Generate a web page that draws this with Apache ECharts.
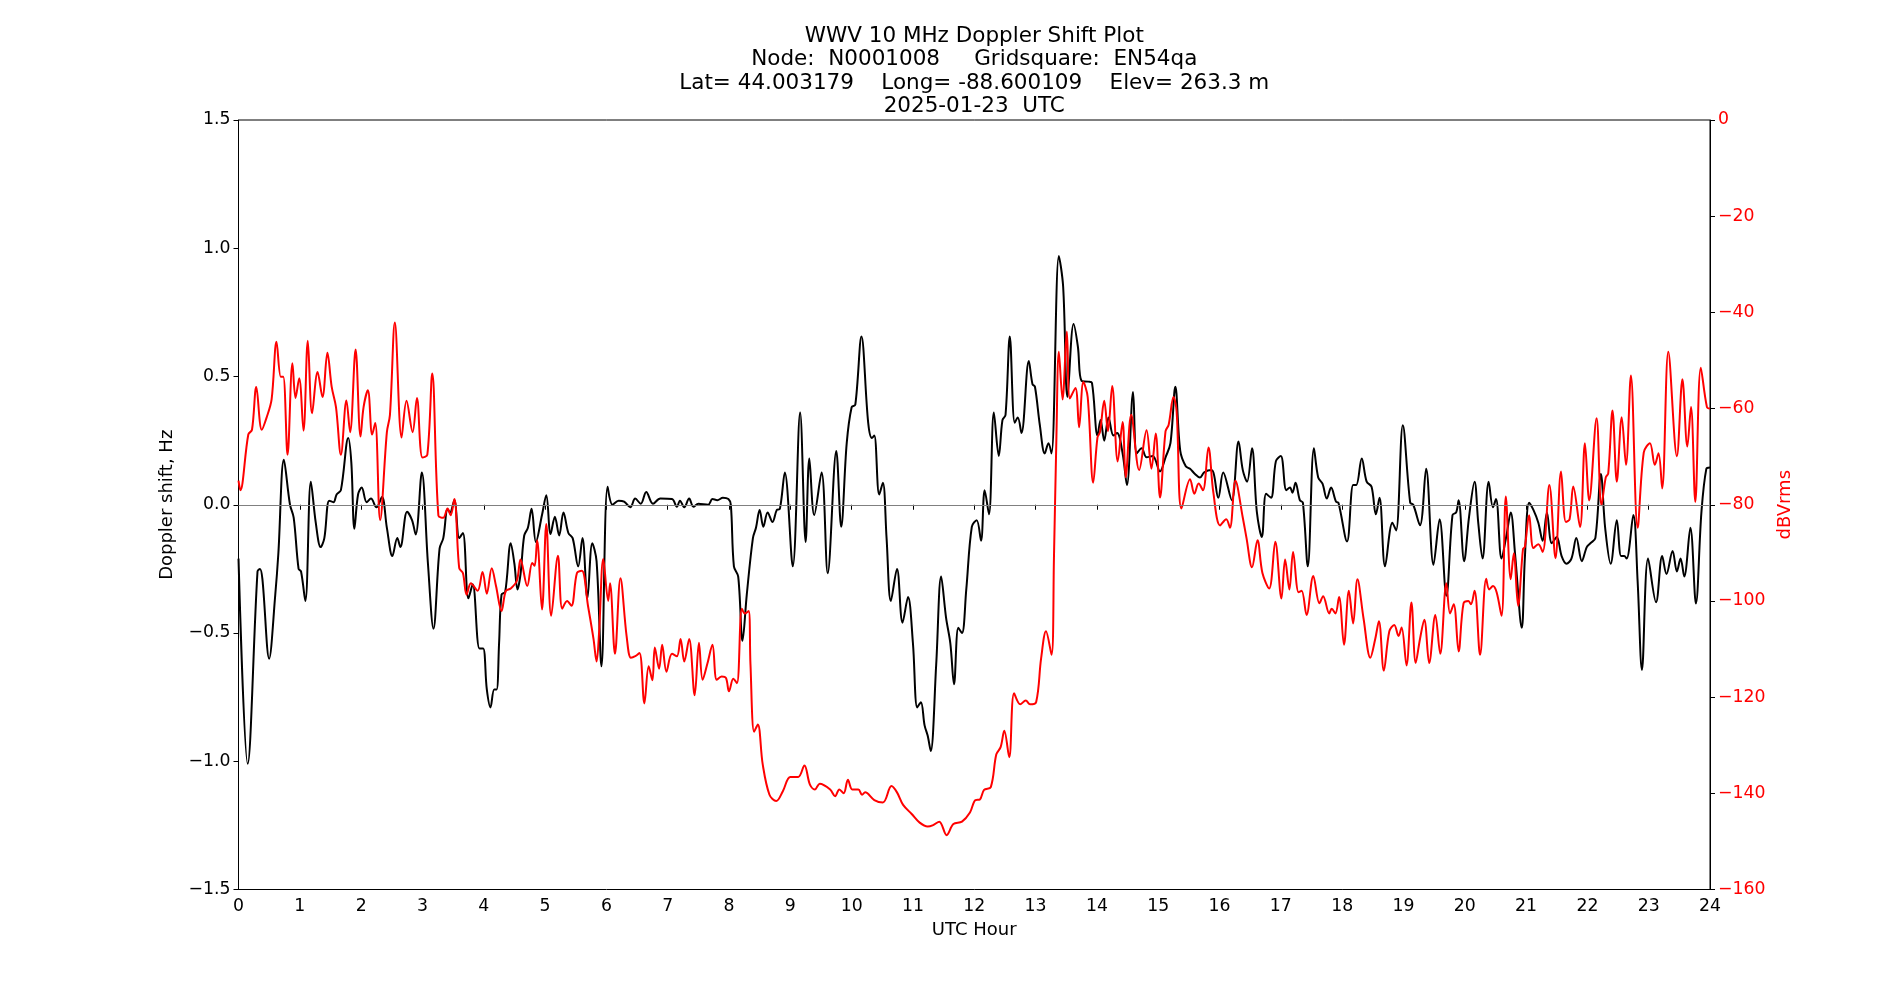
<!DOCTYPE html>
<html>
<head>
<meta charset="utf-8">
<script src="https://cdn.jsdelivr.net/npm/echarts@6/dist/echarts.min.js"></script>
<style>
html,body{margin:0;padding:0;background:#fff;}
#chart{width:1900px;height:1000px;}
</style>
</head>
<body>
<div id="chart"></div>
<script>
const titleLines = [
  'WWV 10 MHz Doppler Shift Plot',
  'Node:  N0001008     Gridsquare:  EN54qa',
  'Lat= 44.003179    Long= -88.600109    Elev= 263.3 m',
  '2025-01-23  UTC'
];
const xTicks = [0,1,2,3,4,5,6,7,8,9,10,11,12,13,14,15,16,17,18,19,20,21,22,23,24];

const dopHours = [0.00,0.15,0.31,0.35,0.39,0.50,0.60,0.65,0.74,0.84,0.90,0.98,1.02,1.09,1.18,1.26,1.34,1.40,1.48,1.55,1.60,1.67,1.79,1.84,1.89,1.95,2.01,2.09,2.16,2.25,2.34,2.42,2.51,2.59,2.64,2.75,2.83,2.89,2.99,3.09,3.18,3.28,3.34,3.41,3.45,3.52,3.60,3.66,3.75,3.82,3.93,3.99,4.05,4.11,4.17,4.21,4.25,4.29,4.35,4.44,4.50,4.55,4.60,4.66,4.72,4.78,4.85,4.95,5.02,5.09,5.16,5.23,5.30,5.38,5.45,5.54,5.61,5.69,5.77,5.84,5.92,6.02,6.10,6.20,6.29,6.39,6.47,6.56,6.65,6.76,6.88,7.07,7.15,7.20,7.27,7.35,7.42,7.50,7.66,7.73,7.81,7.90,7.99,8.03,8.08,8.15,8.22,8.29,8.39,8.44,8.50,8.56,8.63,8.71,8.78,8.83,8.91,9.04,9.16,9.25,9.31,9.39,9.51,9.61,9.75,9.83,9.92,10.00,10.06,10.16,10.27,10.33,10.37,10.45,10.51,10.57,10.64,10.74,10.83,10.92,11.00,11.07,11.13,11.19,11.24,11.29,11.38,11.46,11.54,11.61,11.67,11.74,11.80,11.87,11.96,12.04,12.11,12.17,12.24,12.32,12.40,12.46,12.51,12.58,12.66,12.71,12.77,12.89,12.95,12.99,13.07,13.15,13.21,13.26,13.38,13.45,13.52,13.62,13.69,13.75,13.86,13.92,14.01,14.06,14.12,14.19,14.27,14.33,14.42,14.49,14.59,14.65,14.73,14.81,14.91,15.03,15.12,15.20,15.28,15.36,15.45,15.52,15.60,15.68,15.75,15.87,15.98,16.06,16.20,16.31,16.38,16.45,16.53,16.61,16.69,16.76,16.84,16.92,17.00,17.09,17.15,17.19,17.24,17.31,17.36,17.44,17.54,17.61,17.68,17.75,17.82,17.90,17.94,18.08,18.18,18.23,18.32,18.40,18.48,18.55,18.61,18.70,18.82,18.88,18.99,19.11,19.16,19.27,19.37,19.49,19.59,19.70,19.80,19.86,19.90,19.99,20.07,20.16,20.22,20.29,20.39,20.46,20.51,20.60,20.68,20.75,20.82,20.93,20.98,21.05,21.12,21.20,21.27,21.34,21.42,21.50,21.58,21.66,21.74,21.82,21.91,21.99,22.05,22.13,22.22,22.29,22.38,22.48,22.55,22.60,22.64,22.75,22.82,22.89,22.99,23.12,23.22,23.29,23.39,23.46,23.52,23.58,23.68,23.77,23.86,23.94,24.00];
const dopShift = [-0.21,-1.01,-0.26,-0.25,-0.29,-0.60,-0.35,-0.19,0.175,0.0,-0.05,-0.25,-0.26,-0.375,0.09,-0.07,-0.165,-0.13,0.016,0.01,0.04,0.057,0.26,0.165,-0.094,0.04,0.067,0.01,0.024,-0.01,0.03,-0.09,-0.2,-0.13,-0.165,-0.027,-0.06,-0.116,0.126,-0.23,-0.483,-0.17,-0.13,-0.018,-0.03,0.018,-0.13,-0.11,-0.365,-0.31,-0.56,-0.56,-0.72,-0.79,-0.72,-0.72,-0.54,-0.35,-0.34,-0.15,-0.23,-0.33,-0.27,-0.12,-0.09,-0.016,-0.145,-0.04,0.037,-0.114,-0.047,-0.12,-0.03,-0.11,-0.13,-0.24,-0.13,-0.365,-0.15,-0.22,-0.63,0.07,0.0,0.016,0.012,-0.01,0.024,0.004,0.05,0.004,0.024,0.022,-0.008,0.016,-0.01,0.024,-0.008,0.004,0.0,0.022,0.018,0.027,0.022,0.0,-0.24,-0.28,-0.53,-0.35,-0.13,-0.09,-0.02,-0.086,-0.03,-0.067,-0.02,-0.016,0.126,-0.24,0.36,-0.145,0.18,-0.04,0.126,-0.267,0.21,-0.086,0.24,0.38,0.39,0.656,0.32,0.26,0.27,0.04,0.086,-0.13,-0.375,-0.25,-0.46,-0.36,-0.54,-0.79,-0.77,-0.86,-0.90,-0.96,-0.62,-0.28,-0.44,-0.54,-0.70,-0.48,-0.50,-0.33,-0.086,-0.06,-0.14,0.057,-0.037,0.36,0.19,0.33,0.35,0.656,0.32,0.34,0.28,0.56,0.47,0.46,0.31,0.20,0.24,0.20,0.97,0.85,0.42,0.705,0.617,0.483,0.48,0.475,0.27,0.33,0.25,0.34,0.27,0.28,0.20,0.077,0.44,0.20,0.22,0.185,0.19,0.13,0.185,0.24,0.46,0.21,0.15,0.14,0.12,0.106,0.126,0.135,0.027,0.126,0.018,0.247,0.135,0.09,0.22,-0.03,-0.126,0.043,0.027,0.17,0.19,0.057,0.067,0.047,0.086,0.018,0.008,-0.24,0.22,0.106,0.082,0.024,0.067,0.012,0.008,-0.143,0.077,0.077,0.18,0.09,0.07,-0.037,0.027,-0.24,-0.07,-0.10,0.31,0.008,0.0,-0.08,0.14,-0.234,-0.057,-0.355,-0.04,-0.03,0.018,-0.22,-0.047,0.09,-0.07,-0.21,0.09,-0.01,0.022,-0.21,-0.12,-0.03,-0.19,-0.48,-0.21,0.008,-0.02,-0.07,-0.14,-0.03,-0.15,-0.126,-0.20,-0.23,-0.21,-0.13,-0.22,-0.165,-0.15,-0.13,0.12,-0.09,-0.23,-0.06,-0.20,-0.20,-0.21,-0.04,-0.30,-0.644,-0.21,-0.38,-0.20,-0.27,-0.18,-0.26,-0.21,-0.28,-0.09,-0.385,-0.03,0.14,0.145];

const dbHours = [0.00,0.03,0.16,0.22,0.29,0.38,0.46,0.54,0.62,0.69,0.73,0.80,0.88,0.93,0.99,1.06,1.13,1.20,1.29,1.37,1.45,1.52,1.59,1.67,1.76,1.82,1.91,1.99,2.04,2.11,2.18,2.23,2.31,2.42,2.47,2.55,2.66,2.74,2.84,2.91,3.00,3.08,3.16,3.26,3.34,3.41,3.46,3.52,3.60,3.66,3.72,3.79,3.90,3.98,4.05,4.13,4.20,4.29,4.36,4.44,4.54,4.60,4.71,4.79,4.83,4.87,4.95,5.02,5.10,5.21,5.28,5.36,5.43,5.52,5.60,5.70,5.79,5.84,5.88,5.95,6.03,6.06,6.14,6.23,6.33,6.40,6.47,6.54,6.62,6.69,6.75,6.79,6.86,6.91,6.98,7.07,7.15,7.21,7.27,7.35,7.44,7.51,7.57,7.65,7.73,7.80,7.88,7.95,8.00,8.07,8.13,8.21,8.26,8.32,8.35,8.41,8.47,8.55,8.66,8.77,8.88,9.00,9.13,9.23,9.32,9.40,9.48,9.65,9.73,9.80,9.87,9.94,10.01,10.11,10.17,10.22,10.37,10.51,10.65,10.74,10.84,10.98,11.11,11.24,11.33,11.43,11.55,11.66,11.80,11.93,12.02,12.09,12.16,12.27,12.36,12.43,12.49,12.57,12.65,12.75,12.84,12.91,13.01,13.09,13.17,13.26,13.30,13.34,13.38,13.44,13.51,13.56,13.65,13.71,13.78,13.85,13.94,14.01,14.05,14.12,14.18,14.25,14.34,14.42,14.47,14.56,14.69,14.81,14.89,14.96,15.03,15.12,15.17,15.25,15.30,15.38,15.52,15.59,15.66,15.73,15.82,15.90,16.01,16.11,16.17,16.26,16.38,16.44,16.53,16.62,16.70,16.81,16.91,17.01,17.07,17.14,17.20,17.29,17.34,17.42,17.53,17.63,17.69,17.79,17.83,17.89,17.95,18.03,18.11,18.18,18.25,18.35,18.46,18.54,18.60,18.68,18.77,18.85,18.92,18.97,19.05,19.13,19.20,19.27,19.34,19.42,19.52,19.60,19.70,19.76,19.82,19.90,19.98,20.06,20.10,20.16,20.25,20.35,20.40,20.46,20.52,20.60,20.67,20.75,20.80,20.87,20.95,20.98,21.05,21.12,21.20,21.27,21.38,21.48,21.57,21.65,21.71,21.77,21.88,21.96,22.03,22.15,22.23,22.30,22.34,22.41,22.48,22.56,22.63,22.71,22.82,22.92,23.02,23.10,23.16,23.22,23.32,23.46,23.55,23.63,23.69,23.76,23.85,23.95,24.00];
const dbVrms = [-75,-77,-65.4,-64.4,-55.5,-64.4,-61.8,-58.1,-46.1,-53.4,-53.4,-69.6,-50.6,-57.8,-53.7,-64.6,-45.9,-61.0,-52.4,-57.6,-48.4,-55.5,-59.7,-69.6,-58.3,-64.9,-47.7,-65.8,-59.7,-56.2,-65.4,-63.0,-83.2,-64.9,-61.3,-42.1,-66.0,-58.4,-64.9,-57.8,-70.2,-69.6,-52.7,-82.2,-82.7,-80.8,-82.2,-78.8,-93.2,-94.2,-98.7,-96.3,-97.9,-94.0,-98.5,-93.2,-96.9,-102.1,-97.9,-97.4,-95.8,-91.4,-96.9,-92.1,-92.7,-87.4,-101.8,-84.0,-103.1,-90.6,-101.6,-100.0,-101.0,-94.2,-93.7,-101.0,-107.9,-112.6,-106.8,-91.3,-100.0,-96.3,-111.0,-95.3,-107.3,-111.8,-111.5,-110.8,-121.3,-113.6,-116.5,-109.7,-114.1,-109.1,-114.7,-111.0,-111.5,-107.9,-112.6,-107.9,-119.6,-108.7,-116.4,-112.9,-109.1,-116.4,-115.7,-116.0,-118.8,-116.2,-117.1,-101.6,-102.6,-102.1,-113.1,-127.2,-125.7,-134.0,-140.3,-141.6,-139.5,-136.6,-136.6,-134.2,-138.2,-139.2,-138.0,-139.2,-140.6,-139.2,-140.0,-137.2,-139.2,-139.2,-140.3,-139.8,-141.4,-141.9,-138.5,-139.8,-142.4,-144.3,-146.1,-146.9,-146.6,-145.9,-148.7,-146.4,-145.9,-144.0,-141.4,-141.3,-139.3,-138.7,-131.9,-130.4,-127.0,-132.5,-119.2,-121.5,-120.7,-121.5,-121.0,-112.0,-106.3,-111.2,-91.1,-66.0,-48.2,-58.1,-44.0,-57.9,-55.7,-63.9,-54.5,-57.6,-75.4,-66.0,-64.9,-58.4,-64.7,-55.3,-71.0,-62.8,-74.3,-61.3,-72.8,-64.5,-72.5,-65.2,-78.5,-64.7,-63.4,-57.6,-60.5,-80.8,-74.7,-77.7,-75.6,-77.0,-68.1,-77.5,-84.3,-83.0,-84.8,-75.0,-82.7,-86.9,-93.0,-87.4,-94.2,-97.4,-87.7,-99.5,-91.4,-97.6,-89.8,-98.2,-97.9,-102.9,-94.8,-100.5,-99.0,-102.6,-101.6,-102.6,-99.2,-109.1,-97.9,-104.7,-95.5,-103.7,-111.8,-107.9,-104.2,-114.5,-106.3,-105.0,-107.3,-105.5,-113.4,-100.3,-112.9,-107.9,-103.9,-112.9,-102.9,-111.0,-96.3,-102.6,-100.7,-110.5,-100.5,-100.0,-100.7,-97.9,-111.2,-95.4,-97.6,-96.9,-98.2,-103.1,-78.3,-95.5,-90.1,-101.0,-89.2,-88.8,-82.2,-89.0,-88.2,-89.8,-75.9,-91.1,-73.1,-83.6,-83.0,-76.2,-84.6,-67.2,-79.1,-62.0,-80.1,-74.3,-73.5,-60.4,-75.2,-61.8,-71.7,-53.1,-84.8,-69.1,-67.2,-71.7,-69.3,-76.6,-48.2,-69.9,-53.9,-67.9,-59.7,-79.4,-51.5,-59.7,-60.0];

const dopData = dopHours.map((h, i) => [h, dopShift[i]]);
const dbData = dbHours.map((h, i) => [h, dbVrms[i]]);

const FONT = 'DejaVu Sans';
const minus = s => s.replace('-', '\u2212');

const chart = echarts.init(document.getElementById('chart'), null, {renderer: 'canvas'});
const gridLeft = 238.5, gridRight = 190, gridTop = 120, gridBottom = 110.5;
const centerX = gridLeft + (1900 - gridLeft - gridRight) / 2;

chart.setOption({
  animation: false,
  backgroundColor: '#ffffff',
  textStyle: {fontFamily: FONT},
  graphic: titleLines.map((t, i) => ({
    type: 'text',
    x: centerX,
    y: 36.5 + i * 23.3,
    style: {
      text: t,
      fill: '#000',
      font: '21.5px "DejaVu Sans"',
      textAlign: 'center',
      textVerticalAlign: 'middle'
    }
  })),
  grid: {
    left: gridLeft, right: gridRight, top: gridTop, bottom: gridBottom,
    show: true, borderColor: '#000', borderWidth: 1, backgroundColor: '#fff'
  },
  xAxis: {
    type: 'value', min: xTicks[0], max: xTicks[xTicks.length - 1], interval: 1,
    name: 'UTC Hour', nameLocation: 'middle', nameGap: 32,
    nameTextStyle: {color: '#000', fontSize: 18, fontFamily: FONT},
    axisLine: {show: true, lineStyle: {color: '#000', width: 1}},
    axisTick: {show: true, length: 5, lineStyle: {color: '#000'}},
    axisLabel: {color: '#000', fontSize: 17.3, fontFamily: FONT, margin: 9},
    splitLine: {show: false}
  },
  yAxis: [{
    type: 'value', min: -1.5, max: 1.5, interval: 0.5, position: 'left',
    name: 'Doppler shift, Hz', nameLocation: 'middle', nameGap: 62.5, nameRotate: 90,
    nameTextStyle: {color: '#000', fontSize: 18, fontFamily: FONT},
    axisLine: {show: true, lineStyle: {color: '#000', width: 1}},
    axisTick: {show: true, length: 5, lineStyle: {color: '#000'}},
    axisLabel: {color: '#000', fontSize: 17.3, fontFamily: FONT, margin: 8,
      formatter: v => minus(v.toFixed(1))},
    splitLine: {show: false}
  }, {
    type: 'value', min: -160, max: 0, interval: 20, position: 'right',
    name: 'dBVrms', nameLocation: 'middle', nameGap: 63, nameRotate: 90,
    nameTextStyle: {color: '#ff0000', fontSize: 18, fontFamily: FONT},
    axisLine: {show: true, lineStyle: {color: '#000', width: 1}},
    axisTick: {show: true, length: 5, lineStyle: {color: '#000'}},
    axisLabel: {color: '#ff0000', fontSize: 17.3, fontFamily: FONT, margin: 8,
      formatter: v => minus(String(Math.round(v)))},
    splitLine: {show: false}
  }],
  series: [{
    type: 'line', name: 'Doppler', data: dopData, yAxisIndex: 0,
    showSymbol: false, smooth: 0.35,
    lineStyle: {color: '#000', width: 2},
    itemStyle: {color: '#000'},
    markLine: {
      silent: true, symbol: ['none', 'none'], label: {show: false},
      lineStyle: {color: '#808080', width: 1, type: 'solid'},
      data: [{yAxis: 0}]
    }
  }, {
    type: 'line', name: 'dBVrms', data: dbData, yAxisIndex: 1,
    showSymbol: false, smooth: 0.35,
    lineStyle: {color: '#ff0000', width: 2},
    itemStyle: {color: '#ff0000'}
  }]
});
</script>
</body>
</html>
